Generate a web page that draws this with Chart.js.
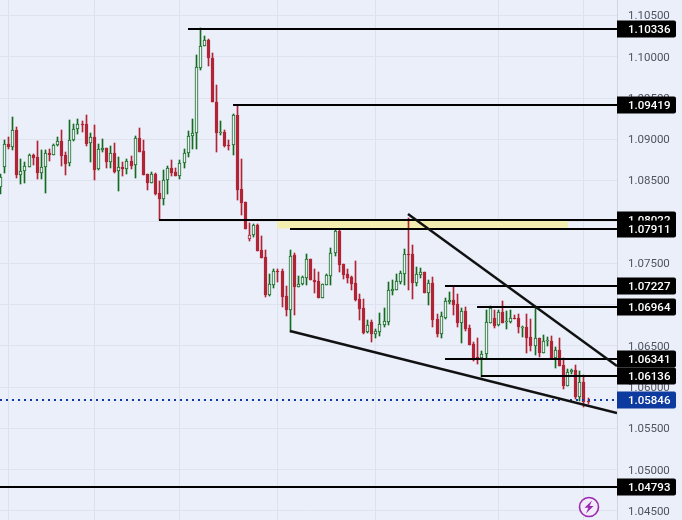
<!DOCTYPE html>
<html><head><meta charset="utf-8">
<script src="https://cdn.jsdelivr.net/npm/chart.js@4"></script>
<style>html,body{margin:0;padding:0;background:#eaeffa;overflow:hidden}canvas{display:block}</style>
</head><body><canvas id="c" width="682" height="520"></canvas>
<script>
const opens=[1.08426,1.08661,1.08944,1.08912,1.09110,1.08572,1.08612,1.08669,1.08811,1.08782,
1.08596,1.08661,1.08835,1.08815,1.08928,1.08981,1.08811,1.08709,1.08989,1.09123,
1.09187,1.09183,1.08952,1.09029,1.08637,1.08871,1.08892,1.08726,1.08831,1.08612,
1.08665,1.08637,1.08734,1.08685,1.09017,1.08859,1.08580,1.08475,1.08580,1.08349,
1.08280,1.08503,1.08653,1.08604,1.08560,1.08709,1.08831,1.09038,1.09074,1.09868,
1.10131,1.10204,1.09985,1.09451,1.09074,1.09090,1.08932,1.08928,1.09293,1.08394,
1.08236,1.07794,1.07839,1.07960,1.07656,1.07571,1.07110,1.07239,1.07401,1.07401,
1.07098,1.06932,1.07596,1.07211,1.07243,1.07320,1.07547,1.07300,1.07280,1.07077,
1.07239,1.07345,1.07628,1.07887,1.07486,1.07365,1.07328,1.07256,1.07061,1.06952,
1.06668,1.06782,1.06648,1.06672,1.06757,1.06782,1.07162,1.07175,1.07272,1.07369,
1.07608,1.07608,1.07256,1.07357,1.07389,1.07138,1.07256,1.06818,1.06648,1.06842,
1.07029,1.07049,1.07000,1.06770,1.06915,1.06709,1.06527,1.06369,1.06348,1.06401,
1.06778,1.06842,1.06749,1.06903,1.06782,1.06782,1.06842,1.06842,1.06721,1.06733,
1.06612,1.06502,1.06599,1.06417,1.06555,1.06563,1.06356,1.06454,1.06271,1.06016,
1.06178,1.06211,1.05883,1.06065,1.05834];
const closes=[1.08539,1.08940,1.08908,1.09110,1.08568,1.08612,1.08673,1.08807,1.08778,1.08596,
1.08661,1.08831,1.08811,1.08928,1.08977,1.08803,1.08701,1.08989,1.09123,1.09183,
1.09175,1.08948,1.09025,1.08628,1.08884,1.08892,1.08726,1.08831,1.08604,1.08661,
1.08641,1.08734,1.08677,1.09017,1.08847,1.08572,1.08475,1.08580,1.08337,1.08276,
1.08503,1.08649,1.08596,1.08556,1.08709,1.08831,1.09038,1.09074,1.09876,1.10131,
1.10204,1.09981,1.09447,1.09082,1.09090,1.08920,1.08924,1.09293,1.08385,1.08232,
1.07916,1.07847,1.07960,1.07648,1.07559,1.07110,1.07243,1.07401,1.07389,1.07085,
1.06927,1.07592,1.07207,1.07251,1.07328,1.07547,1.07292,1.07268,1.07073,1.07243,
1.07353,1.07628,1.07887,1.07474,1.07353,1.07316,1.07243,1.07049,1.06940,1.06660,
1.06757,1.06648,1.06684,1.06765,1.06794,1.07170,1.07183,1.07280,1.07377,1.07608,
1.07596,1.07256,1.07365,1.07389,1.07134,1.07256,1.06806,1.06648,1.06855,1.07037,
1.07049,1.06988,1.06770,1.06915,1.06697,1.06514,1.06356,1.06344,1.06405,1.06782,
1.06952,1.06745,1.06903,1.06774,1.06794,1.06842,1.06830,1.06725,1.06733,1.06599,
1.06502,1.06599,1.06417,1.06563,1.06567,1.06356,1.06454,1.06259,1.06016,1.06186,
1.06211,1.05883,1.06065,1.05822,1.05826];
const highs=[1.08580,1.08993,1.09029,1.09272,1.09151,1.08762,1.08722,1.08823,1.08823,1.08981,
1.08871,1.08871,1.08884,1.08944,1.09029,1.09114,1.08843,1.09236,1.09187,1.09248,
1.09224,1.09297,1.09074,1.09175,1.08944,1.09005,1.08896,1.08920,1.08952,1.08786,
1.08726,1.08762,1.08799,1.09042,1.09139,1.08993,1.08580,1.08604,1.08588,1.08495,
1.08628,1.08677,1.08750,1.08653,1.08750,1.08884,1.09102,1.09248,1.10026,1.10342,
1.10257,1.10216,1.10050,1.09661,1.09224,1.09114,1.08993,1.09309,1.09418,1.08762,
1.08240,1.07985,1.07972,1.07972,1.07827,1.07656,1.07365,1.07426,1.07426,1.07426,
1.07219,1.07656,1.07620,1.07341,1.07341,1.07608,1.07547,1.07426,1.07389,1.07251,
1.07373,1.07681,1.07912,1.07899,1.07486,1.07434,1.07341,1.07523,1.07122,1.07061,
1.06806,1.06806,1.06697,1.06891,1.06952,1.07268,1.07292,1.07365,1.07401,1.07669,
1.08045,1.07717,1.07450,1.07438,1.07389,1.07292,1.07328,1.06879,1.06903,1.07073,
1.07146,1.07219,1.07122,1.06952,1.06964,1.06757,1.06551,1.06599,1.06441,1.06927,
1.06976,1.06927,1.06927,1.07037,1.06915,1.06927,1.06867,1.06879,1.06745,1.06879,
1.06818,1.06976,1.06599,1.06636,1.06612,1.06624,1.06490,1.06599,1.06356,1.06223,
1.06223,1.06271,1.06198,1.06150,1.05870];
const lows=[1.08337,1.08596,1.08884,1.08871,1.08531,1.08458,1.08471,1.08669,1.08689,1.08519,
1.08519,1.08353,1.08738,1.08807,1.08924,1.08677,1.08568,1.08677,1.08981,1.09066,
1.09090,1.08920,1.08726,1.08507,1.08628,1.08847,1.08653,1.08653,1.08592,1.08373,
1.08556,1.08580,1.08641,1.08531,1.08847,1.08568,1.08385,1.08471,1.08325,1.08021,
1.08203,1.08337,1.08556,1.08556,1.08519,1.08653,1.08786,1.08884,1.08884,1.09843,
1.10127,1.09892,1.09447,1.08847,1.09054,1.08908,1.08871,1.08811,1.08264,1.08082,
1.07912,1.07766,1.07823,1.07644,1.07559,1.07085,1.07098,1.07195,1.07268,1.06964,
1.06855,1.06672,1.06867,1.07207,1.07231,1.07231,1.07292,1.07134,1.07073,1.07073,
1.07231,1.07231,1.07584,1.07389,1.07304,1.07256,1.07170,1.07037,1.06806,1.06648,
1.06660,1.06551,1.06599,1.06624,1.06733,1.06757,1.07110,1.07170,1.07251,1.07231,
1.07170,1.07061,1.07219,1.07316,1.07134,1.06988,1.06733,1.06612,1.06599,1.06818,
1.07000,1.06867,1.06733,1.06539,1.06684,1.06514,1.06320,1.06284,1.06126,1.06356,
1.06770,1.06721,1.06745,1.06770,1.06697,1.06770,1.06818,1.06660,1.06612,1.06417,
1.06441,1.06393,1.06369,1.06417,1.06502,1.06344,1.06235,1.06259,1.05980,1.06016,
1.06162,1.05858,1.05834,1.05761,1.05798];
const yTickValues=[1.105,1.10,1.095,1.09,1.085,1.08,1.075,1.07,1.065,1.06,1.055,1.05,1.045];
const xGridAt=[2,23,44,68,92,122,143];
const levelPrices=[1.10336,1.09419,1.08022,1.07911,1.07227,1.06964,1.06341,1.06136,1.04793];
const levelStarts=[45.96,57,38.86,70.96,108.94,116.8,108.94,117.76,-0.11];
const lastPrice=1.05846;
const zoneTop=1.08011, zoneBottom=1.07920, zoneFrom=67.8, zoneTo=139.1;
const upperTrend=[[99.87,1.08096],[151.09,1.06255]];
const lowerTrend=[[70.96,1.06679],[151.09,1.05685]];

const XMIN=-0.108, XMAX=151.09, YMIN=1.04390, YMAX=1.10687;
const BG='#eaeffa', GREEN='#156b1f', RED='#b12436';
const idx=opens.map((_,i)=>i);
const colorOf=i=>{
  if(closes[i]<opens[i]) return RED;
  if(i>0 && closes[i]<closes[i-1]) return RED;
  return GREEN;
};
const candleColors=idx.map(colorOf);
const fills=idx.map(i=>closes[i]<opens[i]?RED:BG);

const datasets=[
 {type:'line',data:[{x:zoneFrom,y:zoneTop},{x:zoneTo,y:zoneTop}],fill:{value:zoneBottom},
  backgroundColor:'#f3edb0',borderWidth:0,pointRadius:0,order:30},
 {type:'bar',data:idx.map(i=>({x:i,y:[lows[i],highs[i]]})),backgroundColor:candleColors,borderWidth:0,
  barThickness:1,grouped:false,order:20,snap:true},
 {type:'bar',data:idx.map(i=>({x:i,y:[opens[i],closes[i]]})),backgroundColor:fills,borderColor:candleColors,
  borderWidth:1,borderSkipped:false,barThickness:3,grouped:false,order:19,snap:true},
 {type:'line',data:[{x:XMIN,y:lastPrice},{x:XMAX,y:lastPrice}],borderColor:'#0d3a9e',borderWidth:2,
  borderDash:[2,4],pointRadius:0,order:5,crisp:true},
];
levelPrices.forEach((p,k)=>datasets.push({type:'line',data:[{x:levelStarts[k],y:p},{x:XMAX,y:p}],
  borderColor:'#000',borderWidth:2,pointRadius:0,order:4,crisp:true}));
[upperTrend,lowerTrend].forEach(t=>datasets.push({type:'line',data:t.map(p=>({x:p[0],y:p[1]})),
  borderColor:'#111',borderWidth:2.5,pointRadius:0,order:3}));

const snapPlugin={id:'snap',afterDatasetsUpdate(chart){
  chart.data.datasets.forEach((ds,k)=>{
    const meta=chart.getDatasetMeta(k);
    if(ds.snap){meta.data.forEach(el=>{
      el.x=Math.floor(el.x)+0.5;
      let a=Math.round(el.y),b=Math.round(el.base);
      if(a===b) b=a+1;
      el.y=a;el.base=b;el.height=b-a;
    });}
    if(ds.crisp){meta.data.forEach(el=>{el.y=Math.round(el.y);});}
  });
}};
const pad=n=>n.toFixed(5);
const badgePlugin={id:'badges',afterDraw(chart){
  const c=chart.ctx,y=chart.scales.y;
  const badge=(p,col)=>{
    const py=Math.round(y.getPixelForValue(p));
    c.fillStyle=col;c.beginPath();c.roundRect(617,py-8.5,59,17,[0,2,2,0]);c.fill();
    c.fillStyle='#fff';c.font='500 11.5px Roboto';c.textAlign='left';c.textBaseline='middle';
    c.fillText(pad(p),628,py+1);
  };
  levelPrices.forEach(p=>badge(p,'#000'));
  badge(lastPrice,'#0d3a9e');
  c.save();c.strokeStyle='#9c27b0';c.fillStyle='#f0ecfa';c.lineWidth=1.6;
  c.beginPath();c.arc(589,507,9.5,0,Math.PI*2);c.fill();c.stroke();
  c.fillStyle='#9c27b0';c.beginPath();
  c.moveTo(592,500.5);c.lineTo(584.5,507.8);c.lineTo(588.4,507.8);c.lineTo(586,513.5);c.lineTo(593.5,506);c.lineTo(589.6,506);c.closePath();c.fill();
  c.restore();
}};
new Chart(document.getElementById('c'),{
  type:'bar',
  data:{datasets},
  plugins:[snapPlugin,badgePlugin],
  options:{
    responsive:false,animation:false,devicePixelRatio:1,
    layout:{padding:0},
    plugins:{legend:{display:false},tooltip:{enabled:false},title:{display:false}},
    scales:{
      x:{type:'linear',min:XMIN,max:XMAX,offset:false,
        afterBuildTicks:s=>{s.ticks=xGridAt.map(v=>({value:v}));},
        afterFit:s=>{s.height=0;s.paddingLeft=0;s.paddingRight=0;},
        ticks:{display:false,autoSkip:false},border:{display:false},
        grid:{offset:false,color:'#dde1ef',lineWidth:1,drawTicks:false}},
      y:{type:'linear',position:'right',min:YMIN,max:YMAX,
        afterBuildTicks:s=>{s.ticks=yTickValues.map(v=>({value:v}));},
        afterFit:s=>{s.width=65;s.paddingTop=0;s.paddingBottom=0;},
        ticks:{padding:11,labelOffset:1,color:'#4f5360',font:{family:'Roboto',size:11.5},callback:v=>pad(v),autoSkip:false,maxRotation:0},
        border:{display:true,color:'#d0d4e3',width:1},
        grid:{color:'#dfe3f0',lineWidth:1,drawTicks:false}}
    }
  }
});
</script></body></html>
